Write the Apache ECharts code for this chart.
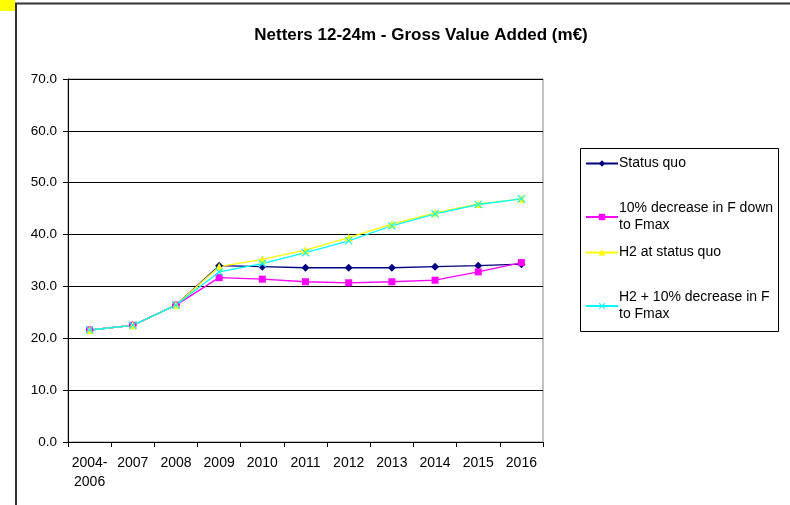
<!DOCTYPE html>
<html lang="en">
<head>
    <meta charset="UTF-8">
    <title>Netters 12-24m - Gross Value Added</title>
    <script src="https://cdn.jsdelivr.net/npm/echarts@6/dist/echarts.min.js"></script>
    <style>
        html, body { margin: 0; padding: 0; background: #fff; }
    </style>
</head>
<body>
    <div id="echarts" style="width: 790px; height: 505px;"></div>
    <script>
        const myChart = echarts.init(document.querySelector('#echarts'));
        const font = "'Liberation Sans', Arial, sans-serif";

        // categories and series values (m€)
        const years = ['2004-\n2006', '2007', '2008', '2009', '2010', '2011', '2012', '2013', '2014', '2015', '2016'];
        const statusQuo = [21.6, 22.5, 26.4, 34.0, 33.8, 33.6, 33.6, 33.6, 33.8, 34.0, 34.3];
        const decreaseF = [21.6, 22.5, 26.4, 31.7, 31.4, 30.9, 30.7, 30.9, 31.2, 32.8, 34.6];
        const h2StatusQuo = [21.6, 22.5, 26.4, 33.8, 35.2, 37.0, 39.4, 42.0, 44.2, 45.9, 46.9];
        const h2DecreaseF = [21.6, 22.5, 26.4, 32.8, 34.4, 36.5, 38.8, 41.7, 44.0, 45.8, 46.9];
        const seriesNames = ['Status quo', '10% decrease in F down\nto Fmax', 'H2 at status quo', 'H2 + 10% decrease in F\nto Fmax'];

        const crossIcon = 'path://M0,1L1,0L5,4L9,0L10,1L6,5L10,9L9,10L5,6L1,10L0,9L4,5Z';

        // one legend per entry so the marker lines up with the first text line
        const legendTops = [155, 200, 244, 289];
        const legends = seriesNames.map((name, i) => ({
            data: [name],
            left: 585,
            top: legendTops[i],
            itemWidth: 32,
            itemHeight: 8,
            itemGap: 0,
            padding: 0,
            selectedMode: false,
            textStyle: { fontFamily: font, fontSize: 14, color: '#000', lineHeight: 17, padding: [0, 0, 0, -4] }
        }));

        const makeLine = (name, data, color, symbol, size) => ({
            name: name,
            type: 'line',
            data: data,
            symbol: symbol,
            symbolSize: size,
            showSymbol: true,
            lineStyle: { color: color, width: 1.3 },
            itemStyle: { color: color },
            emphasis: { disabled: true },
            animation: false
        });

        const option = {
            backgroundColor: '#fff',
            title: {
                text: 'Netters 12-24m - Gross Value Added (m€)',
                left: 416,
                top: 22,
                textAlign: 'center',
                textStyle: { fontFamily: font, fontSize: 17, fontWeight: 'bold', color: '#000' }
            },
            legend: legends,
            grid: {
                left: 68,
                right: 247,
                top: 79,
                bottom: 63,
                show: true,
                borderColor: '#888',
                borderWidth: 1
            },
            xAxis: {
                type: 'category',
                data: years,
                boundaryGap: true,
                axisLine: { lineStyle: { color: '#000', width: 1 } },
                axisTick: { show: true, length: 5, inside: false, lineStyle: { color: '#000' } },
                axisLabel: { fontFamily: font, fontSize: 14, color: '#000', margin: 12, lineHeight: 19, interval: 0 }
            },
            yAxis: {
                type: 'value',
                min: 0,
                max: 70,
                interval: 10,
                axisLine: { show: true, lineStyle: { color: '#000', width: 1 } },
                axisTick: { show: true, length: 5, lineStyle: { color: '#000' } },
                axisLabel: { fontFamily: font, fontSize: 13.5, color: '#000', margin: 11, formatter: v => v.toFixed(1) },
                splitLine: { show: true, lineStyle: { color: '#000', width: 1 } }
            },
            series: [
                makeLine(seriesNames[0], statusQuo, '#000080', 'diamond', 8),
                makeLine(seriesNames[1], decreaseF, '#FF00FF', 'rect', 7),
                makeLine(seriesNames[2], h2StatusQuo, '#FFFF00', 'triangle', 8),
                makeLine(seriesNames[3], h2DecreaseF, '#00FFFF', crossIcon, 8)
            ],
            graphic: [
                // legend box
                { type: 'rect', shape: { x: 580.5, y: 148.5, width: 198, height: 183 }, style: { fill: 'none', stroke: '#000', lineWidth: 1 }, silent: true },
                // outer sheet frame and the yellow corner cell
                { type: 'rect', shape: { x: 0, y: 0, width: 15, height: 11 }, style: { fill: '#FFFF00' }, silent: true },
                { type: 'polyline', shape: { points: [[16, 505], [16, 3.5], [790, 3.5]] }, style: { fill: 'none', stroke: '#333', lineWidth: 2 }, silent: true }
            ]
        };
        myChart.setOption(option);
    </script>
</body>
</html>
